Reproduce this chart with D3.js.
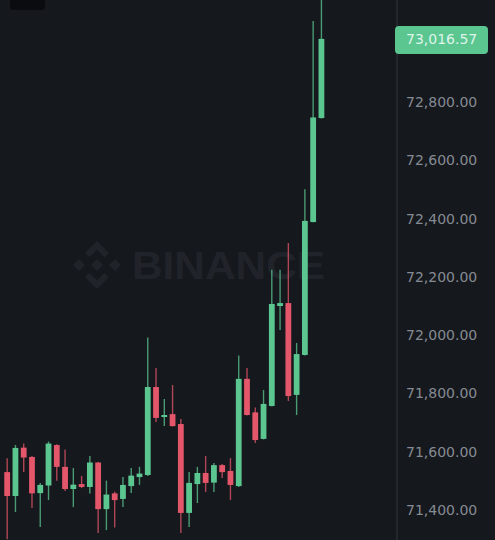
<!DOCTYPE html>
<html>
  <head>
    <script src="https://cdn.jsdelivr.net/npm/d3@7"></script>
    <style>
      body { margin: 0; background: #15181d; }
    </style>
  </head>
  <body>
    <svg id="chart" width="495" height="540"></svg>
    <script>
    // candles, oldest first
    var opens  = [71530, 71448, 71614, 71582, 71458, 71484, 71623, 71548, 71472, 71489,
                  71479, 71563, 71403, 71457, 71438, 71482, 71513, 71520, 71822, 71719,
                  71729, 71695, 71390, 71489, 71527, 71494, 71554, 71534, 71482, 71850,
                  71735, 71644, 71757, 72100, 72110, 71795, 71932, 72388, 72745];
    var highs  = [71578, 71623, 71628, 71585, 71493, 71635, 71626, 71608, 71544, 71517,
                  71585, 71565, 71501, 71463, 71513, 71544, 71548, 71992, 71887, 71781,
                  71829, 71712, 71530, 71548, 71585, 71561, 71558, 71578, 71930, 71887,
                  71752, 71812, 72224, 72224, 72316, 71973, 72501, 73078, 73190];
    var lows   = [71300, 71393, 71530, 71407, 71342, 71434, 71500, 71465, 71410, 71475,
                  71457, 71321, 71331, 71340, 71410, 71458, 71486, 71517, 71702, 71688,
                  71686, 71321, 71342, 71424, 71462, 71462, 71510, 71434, 71479, 71724,
                  71630, 71642, 71755, 72018, 71774, 71726, 71930, 72387, 72743];
    var closes = [71448, 71613, 71580, 71457, 71486, 71628, 71548, 71472, 71487, 71479,
                  71563, 71403, 71453, 71434, 71486, 71518, 71525, 71822, 71716, 71726,
                  71688, 71390, 71493, 71527, 71493, 71554, 71530, 71486, 71850, 71726,
                  71640, 71764, 72107, 72110, 71791, 71935, 72392, 72747, 73016.57];
    var priceTicks = [71400, 71600, 71800, 72000, 72200, 72400, 72600, 72800];
    var lastPrice = 73016.57;

    var up = "#5cc691", down = "#e4566a";
    var svg = d3.select("#chart");

    var candles = opens.map(function(o, i){
      return {i: i, o: o, h: highs[i], l: lows[i], c: closes[i]};
    });

    var x = d3.scaleBand()
      .domain(d3.range(candles.length))
      .range([1.8, 326.8])
      .padding(0.3);
    var y = d3.scaleLinear()
      .domain([71400, 72800])
      .range([510, 102]);

    // dark patch at the very top left
    svg.append("rect").attr("x", 10).attr("y", -6).attr("width", 35).attr("height", 16)
      .attr("rx", 3).style("fill", "#0b0c10");

    // watermark
    var mark = svg.append("g").attr("transform", "translate(97,265) scale(24)")
      .style("fill", "#20242a");
    var logo = [
      [[0,-0.25],[0.25,0],[0,0.25],[-0.25,0]],
      [[-1,0],[-0.75,-0.25],[-0.5,0],[-0.75,0.25]],
      [[1,0],[0.75,-0.25],[0.5,0],[0.75,0.25]],
      [[0,-1],[0.5,-0.5],[0.32,-0.32],[0,-0.64],[-0.32,-0.32],[-0.5,-0.5]],
      [[0,1],[0.5,0.5],[0.32,0.32],[0,0.64],[-0.32,0.32],[-0.5,0.5]]
    ];
    mark.selectAll("polygon").data(logo).enter().append("polygon")
      .attr("points", function(p){ return p.join(" "); });
    svg.append("text").attr("x", 132).attr("y", 279)
      .attr("textLength", 193).attr("lengthAdjust", "spacingAndGlyphs")
      .style("font-family", "Liberation Sans, Arial, sans-serif")
      .style("font-weight", "bold").style("font-size", "38px")
      .style("fill", "#20242a")
      .text("BINANCE");

    // candles
    var g = svg.append("g");
    var colour = function(d){ return d.c >= d.o ? up : down; };
    g.selectAll("line.wick").data(candles).enter().append("line")
      .attr("class", "wick")
      .attr("x1", function(d){ return x(d.i) + x.bandwidth()/2; })
      .attr("x2", function(d){ return x(d.i) + x.bandwidth()/2; })
      .attr("y1", function(d){ return y(d.h); })
      .attr("y2", function(d){ return y(d.l); })
      .style("stroke", colour).style("stroke-width", 1.4).style("opacity", 0.75);
    g.selectAll("rect.body").data(candles).enter().append("rect")
      .attr("class", "body")
      .attr("x", function(d){ return x(d.i); })
      .attr("width", x.bandwidth())
      .attr("y", function(d){ return y(Math.max(d.o, d.c)); })
      .attr("height", function(d){ return Math.max(1.5, Math.abs(y(d.o) - y(d.c))); })
      .style("fill", colour);

    // price scale
    svg.append("line").attr("x1", 397).attr("x2", 397).attr("y1", 0).attr("y2", 540)
      .style("stroke", "#2a2e35").style("stroke-width", 1.5);
    var axis = svg.append("g").attr("transform", "translate(397,0)")
      .call(d3.axisRight(y).tickValues(priceTicks).tickSize(0).tickPadding(9)
        .tickFormat(d3.format(",.2f")));
    axis.select(".domain").remove();
    axis.selectAll("text")
      .style("font-family", "DejaVu Sans, sans-serif").style("font-size", "14px")
      .style("fill", "#868b93");

    var yl = y(lastPrice);
    svg.append("rect").attr("x", 395).attr("y", yl - 13).attr("width", 93).attr("height", 28)
      .attr("rx", 4).style("fill", up);
    svg.append("text").attr("x", 406).attr("y", yl + 1).attr("dy", "0.32em")
      .style("font-family", "DejaVu Sans, sans-serif").style("font-size", "14px")
      .style("fill", "#def5e9")
      .text(d3.format(",.2f")(lastPrice));
    </script>
  </body>
</html>
